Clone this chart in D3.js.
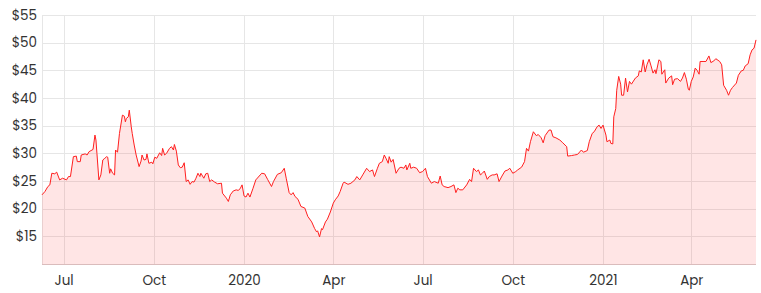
<!DOCTYPE html>
<html>
<head>
<meta charset="utf-8">
<script src="https://cdn.jsdelivr.net/npm/d3@7"></script>
<style>
  html, body { margin: 0; padding: 0; background: #fff; }
  svg { display: block; }
  text { font-family: "Poppins", "Open Sans", "Noto Sans", sans-serif; fill: #333; }
</style>
</head>
<body>
<svg id="chart" width="761" height="293"></svg>
<script>
// ---- data ----
const dates = [
"2019-06-09","2019-06-12","2019-06-15","2019-06-17","2019-06-19","2019-06-22","2019-06-24","2019-06-27","2019-06-30","2019-07-04",
"2019-07-06","2019-07-08","2019-07-11","2019-07-14","2019-07-15","2019-07-18","2019-07-19","2019-07-23","2019-07-25","2019-07-27",
"2019-07-31","2019-08-02","2019-08-03","2019-08-04","2019-08-06","2019-08-08","2019-08-10","2019-08-12","2019-08-14","2019-08-15",
"2019-08-17","2019-08-18","2019-08-20","2019-08-22","2019-08-23","2019-08-25","2019-08-27","2019-08-30","2019-09-01","2019-09-02",
"2019-09-03","2019-09-05","2019-09-06","2019-09-08","2019-09-09","2019-09-11","2019-09-13","2019-09-16","2019-09-18","2019-09-19",
"2019-09-21","2019-09-23","2019-09-24","2019-09-26","2019-09-29","2019-09-30","2019-10-02","2019-10-04","2019-10-07","2019-10-09",
"2019-10-10","2019-10-12","2019-10-14","2019-10-17","2019-10-19","2019-10-21","2019-10-22","2019-10-24","2019-10-26","2019-10-28",
"2019-10-30","2019-11-01","2019-11-03","2019-11-05","2019-11-07","2019-11-09","2019-11-11","2019-11-13","2019-11-15","2019-11-17",
"2019-11-18","2019-11-21","2019-11-23","2019-11-25","2019-11-27","2019-11-29","2019-12-02","2019-12-05","2019-12-09","2019-12-10",
"2019-12-14","2019-12-16","2019-12-18","2019-12-21","2019-12-24","2019-12-26","2019-12-28","2019-12-30","2020-01-01","2020-01-03",
"2020-01-05","2020-01-07","2020-01-10","2020-01-13","2020-01-19","2020-01-22","2020-01-25","2020-01-29","2020-01-31","2020-02-04",
"2020-02-08","2020-02-11","2020-02-13","2020-02-16","2020-02-18","2020-02-20","2020-02-22","2020-02-25","2020-02-28","2020-03-03",
"2020-03-06","2020-03-10","2020-03-13","2020-03-15","2020-03-16","2020-03-18","2020-03-20","2020-03-21","2020-03-24","2020-03-26",
"2020-03-29","2020-04-01","2020-04-03","2020-04-06","2020-04-08","2020-04-11","2020-04-12","2020-04-16","2020-04-19","2020-04-23",
"2020-04-25","2020-04-28","2020-05-01","2020-05-05","2020-05-08","2020-05-11","2020-05-13","2020-05-16","2020-05-18","2020-05-21",
"2020-05-23","2020-05-25","2020-05-27","2020-05-28","2020-05-30","2020-06-01","2020-06-04","2020-06-07","2020-06-09","2020-06-12",
"2020-06-14","2020-06-15","2020-06-18","2020-06-19","2020-06-22","2020-06-25","2020-06-28","2020-07-01","2020-07-04","2020-07-06",
"2020-07-10","2020-07-13","2020-07-17","2020-07-19","2020-07-21","2020-07-23","2020-07-27","2020-07-30","2020-08-02","2020-08-04",
"2020-08-06","2020-08-08","2020-08-11","2020-08-15","2020-08-18","2020-08-20","2020-08-22","2020-08-25","2020-08-27","2020-08-29",
"2020-08-31","2020-09-02","2020-09-05","2020-09-07","2020-09-10","2020-09-12","2020-09-15","2020-09-17","2020-09-20","2020-09-23",
"2020-09-26","2020-09-28","2020-10-01","2020-10-04","2020-10-06","2020-10-10","2020-10-13","2020-10-15","2020-10-17","2020-10-19",
"2020-10-22","2020-10-25","2020-10-27","2020-10-30","2020-11-01","2020-11-03","2020-11-07","2020-11-09","2020-11-11","2020-11-14",
"2020-11-18","2020-11-21","2020-11-25","2020-11-26","2020-11-30","2020-12-03","2020-12-06","2020-12-10","2020-12-12","2020-12-16",
"2020-12-18","2020-12-21","2020-12-23","2020-12-26","2020-12-28","2020-12-30","2021-01-01","2021-01-04","2021-01-05","2021-01-08",
"2021-01-09","2021-01-11","2021-01-12","2021-01-14","2021-01-15","2021-01-17","2021-01-19","2021-01-20","2021-01-22","2021-01-24",
"2021-01-26","2021-01-28","2021-01-30","2021-02-03","2021-02-06","2021-02-07","2021-02-09","2021-02-11","2021-02-13","2021-02-15",
"2021-02-17","2021-02-19","2021-02-21","2021-02-23","2021-02-24","2021-02-27","2021-03-01","2021-03-02","2021-03-05","2021-03-06",
"2021-03-09","2021-03-12","2021-03-13","2021-03-15","2021-03-18","2021-03-21","2021-03-23","2021-03-25","2021-03-27","2021-03-29",
"2021-03-30","2021-04-01","2021-04-03","2021-04-05","2021-04-07","2021-04-09","2021-04-10","2021-04-13","2021-04-16","2021-04-19",
"2021-04-21","2021-04-24","2021-04-26","2021-04-30","2021-05-02","2021-05-04","2021-05-07","2021-05-09","2021-05-11","2021-05-13",
"2021-05-17","2021-05-19","2021-05-22","2021-05-24","2021-05-26","2021-05-29","2021-05-31","2021-06-02","2021-06-04","2021-06-06"
];
const prices = [
22.5,23.1,24.0,24.3,26.4,26.3,26.6,25.2,25.5,25.2,
25.8,25.8,29.4,29.5,28.5,28.5,29.7,29.9,29.7,30.3,
30.7,33.3,32.4,30.0,25.2,26.1,28.8,29.1,29.4,29.3,
26.4,27.2,26.4,26.1,30.6,30.2,33.6,36.9,36.7,35.7,
36.3,36.6,37.8,34.8,33.6,31.5,29.7,27.6,28.6,29.7,
28.8,28.9,29.9,28.2,28.4,28.1,29.3,29.1,30.1,29.6,
30.9,29.7,30.0,30.9,31.2,30.6,31.6,30.4,27.9,27.4,
27.5,28.3,24.9,25.2,24.4,24.9,24.8,25.5,26.4,25.8,
26.4,25.5,26.3,26.4,24.9,25.2,24.8,24.5,24.6,22.8,
21.9,21.3,22.5,23.2,23.4,23.3,23.6,24.3,22.3,22.1,
22.8,22.1,23.6,25.2,26.4,26.3,25.3,24.0,24.9,26.2,
26.5,27.3,25.5,22.9,22.5,22.9,22.2,21.7,20.4,20.1,
18.6,17.6,16.4,15.8,16.0,14.9,16.4,16.2,17.6,18.1,
19.4,21.0,21.6,22.3,23.1,24.6,24.8,24.4,24.6,25.2,
25.8,25.2,26.1,27.3,26.7,27.0,25.8,27.3,28.2,28.5,
29.7,29.0,28.2,29.4,28.4,28.9,26.4,27.3,27.5,27.3,
27.9,27.0,28.2,27.3,27.5,27.3,26.5,26.7,27.3,25.8,
24.6,24.9,24.6,25.9,24.3,24.0,23.8,24.0,24.3,22.9,
23.7,23.4,23.4,24.3,25.3,24.9,27.3,26.7,27.0,26.1,
26.4,26.8,25.3,25.8,26.1,26.1,26.3,24.9,25.9,26.8,
27.0,27.3,26.4,26.7,27.0,27.5,28.5,30.9,30.4,32.1,
33.9,33.2,33.4,32.8,31.9,33.2,34.2,34.2,33.0,32.8,
32.4,31.9,31.2,29.5,29.6,29.7,29.8,30.6,30.2,30.5,
32.1,33.6,33.9,34.8,35.1,34.5,35.1,33.3,32.1,32.4,
31.8,31.7,36.6,38.1,41.4,43.9,42.5,40.5,40.5,43.6,
41.1,43.0,42.5,43.6,44.0,44.9,44.7,46.9,44.7,46.1,
47.0,45.8,44.5,45.1,44.4,46.9,46.6,44.3,45.1,42.7,
43.6,44.0,42.4,43.4,43.5,43.0,43.6,44.6,43.4,41.6,
41.4,43.0,43.8,45.4,45.0,44.3,46.6,46.6,46.6,47.6,
46.4,46.7,47.1,46.6,46.0,42.3,41.4,40.5,41.4,41.9,
42.7,44.1,44.9,45.0,45.8,46.2,47.8,48.7,49.0,50.5
];
const yTickValues = [10, 15, 20, 25, 30, 35, 40, 45, 50, 55];
const xTickDates = ["2019-07-01","2019-10-01","2020-01-01","2020-04-01","2020-07-01","2020-10-01","2021-01-01","2021-04-01"];
const xDomain = ["2019-06-09","2021-06-06"];
const yDomain = [10, 55];

// ---- chart ----
const W = 761, H = 293;
const margin = { top: 15, right: 5, bottom: 29, left: 42 };
const parse = d3.utcParse("%Y-%m-%d");
const data = dates.map((d, i) => ({ date: parse(d), value: prices[i] }));

const svg = d3.select("#chart");
const x = d3.scaleUtc().domain(xDomain.map(parse)).range([margin.left, W - margin.right]);
const y = d3.scaleLinear().domain(yDomain).range([H - margin.bottom, margin.top]);

const gridColor = "#e6e6e6";

// horizontal gridlines + y labels
const yAxis = svg.append("g")
  .attr("transform", `translate(${margin.left},0)`)
  .call(d3.axisLeft(y).tickValues(yTickValues)
    .tickSize(-(W - margin.left - margin.right))
    .tickPadding(5)
    .tickFormat(v => v === 10 ? "" : "$" + v));
yAxis.select(".domain").remove();
yAxis.selectAll(".tick line").attr("stroke", gridColor).attr("shape-rendering", "crispEdges");
yAxis.selectAll(".tick text").attr("font-size", 13.5).style("fill", "#333");

// vertical gridlines + x labels
const xAxis = svg.append("g")
  .attr("transform", `translate(0,${H - margin.bottom})`)
  .call(d3.axisBottom(x).tickValues(xTickDates.map(parse))
    .tickSize(-(H - margin.top - margin.bottom))
    .tickPadding(11)
    .tickFormat(d => d.getUTCMonth() === 0 ? d3.utcFormat("%Y")(d) : d3.utcFormat("%b")(d)));
xAxis.select(".domain").remove();
xAxis.selectAll(".tick line").attr("stroke", gridColor).attr("shape-rendering", "crispEdges");
xAxis.selectAll(".tick text").attr("font-size", 13.5).style("fill", "#333");

// left border
svg.append("line")
  .attr("x1", margin.left).attr("x2", margin.left)
  .attr("y1", margin.top).attr("y2", H - margin.bottom)
  .attr("stroke", gridColor).attr("shape-rendering", "crispEdges");

// area
const area = d3.area()
  .x(d => x(d.date))
  .y0(y(yDomain[0]))
  .y1(d => y(d.value));
svg.append("path").datum(data)
  .attr("d", area)
  .attr("fill", "rgba(255,40,40,0.12)");

// line
const line = d3.line().x(d => x(d.date)).y(d => y(d.value));
svg.append("path").datum(data)
  .attr("d", line)
  .attr("fill", "none")
  .attr("stroke", "#ff1f1f")
  .attr("stroke-width", 1)
  .attr("stroke-linejoin", "round");

// bottom baseline
svg.append("line")
  .attr("x1", margin.left).attr("x2", W - margin.right)
  .attr("y1", y(yDomain[0])).attr("y2", y(yDomain[0]))
  .attr("stroke", "rgba(210,160,160,0.6)").attr("shape-rendering", "crispEdges");
</script>
</body>
</html>
